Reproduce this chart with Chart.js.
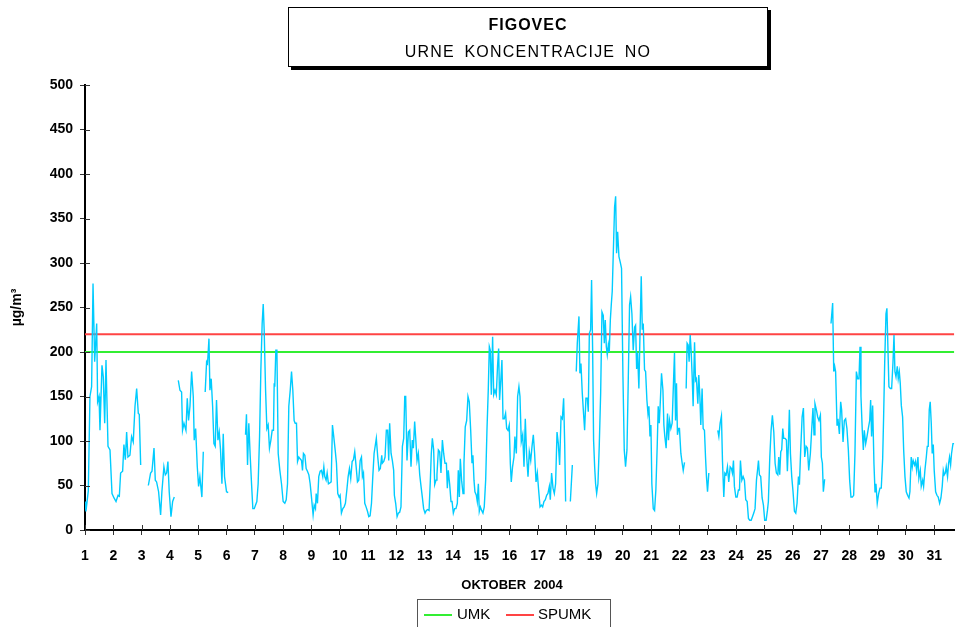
<!DOCTYPE html>
<html>
<head>
<meta charset="utf-8">
<script src="https://cdn.jsdelivr.net/npm/chart.js@4"></script>
<style>
  body { margin: 0; background: #fff; font-family: 'Liberation Sans', Arial, sans-serif; }
  #wrap { position: relative; width: 955px; height: 627px; overflow: hidden; }
  #titleBox { position: absolute; left: 288px; top: 7px; width: 478px; height: 58px; border: 1px solid #000;
    box-shadow: 3px 3px 0 #000; background: #fff; text-align: center; }
  #titleBox .t1 { position: absolute; left: 0; right: 0; top: 8px; font-weight: bold; font-size: 16px; letter-spacing: 1px; }
  #titleBox .t2 { position: absolute; left: 0; right: 0; top: 35px; font-size: 16px; letter-spacing: 1.2px; word-spacing: 4px; }
  #xTitle { position: absolute; left: 412px; width: 200px; top: 577px; text-align: center; font-weight: bold; font-size: 13px; word-spacing: 4px; }
  #legend { position: absolute; left: 417px; top: 599px; width: 192px; height: 32px; border: 1px solid #555; background: #fff; }
  #legend .ln { position: absolute; top: 14px; width: 28px; height: 0; border-top: 2px solid; }
  #legend .lb { position: absolute; top: 5px; font-size: 15px; }
</style>
</head>
<body>
<div id="wrap">
  <canvas id="chart" width="955" height="627"></canvas>
  <div id="titleBox"><div class="t1">FIGOVEC</div><div class="t2">URNE KONCENTRACIJE NO</div></div>
  <div id="xTitle">OKTOBER 2004</div>
  <div id="legend">
    <div class="ln" style="left:6px;border-color:#33ee33"></div><div class="lb" style="left:39px">UMK</div>
    <div class="ln" style="left:88px;border-color:#ff4444"></div><div class="lb" style="left:120px">SPUMK</div>
  </div>
</div>
<script>
// hourly NO readings, [hour from 1 Oct 00:00, µg/m3]; null = missing hours
var noReadings = [
[0,32],[0.8,21],[2.8,44],[4.2,150],[5.6,161],[6.8,277],[8.2,189],[9.9,232],[10.7,144],[11.9,150],[12.7,112],[14.4,185],[15.5,172],[16.7,120],[17.8,191],[19.5,94],[21.2,90],[22.9,41],[24.6,36],[26.3,32],[28,39],[29.1,38],[30.2,64],[31.9,66],[33,96],[34.2,79],[35.3,110],[36.4,82],[38.1,84],[39.5,105],[40.9,99],[42.4,139],[43.8,159],[45.2,131],[46,130],[47.2,73],
[50,null],
[53.7,50],[55.6,64],[56.8,66],[58.5,92],[59.6,56],[60.7,54],[62.4,43],[64.1,17],[65.2,43],[66.9,71],[68.1,62],[69.2,64],[70.3,77],[71.4,43],[72.9,15],[74.3,32],[75.7,37],
[77,null],
[79.1,168],[80.5,157],[81.9,155],[82.7,112],[83.9,120],[85.6,112],[86.7,148],[87.8,123],[89,139],[90.4,178],[91.8,150],[92.6,101],[93.8,114],[95.2,71],[96.3,49],[97.4,60],[99.1,37],[100.3,88],
[101,null],
[101.9,155],[103.1,189],[103.9,187],[105.1,215],[105.9,157],[107,170],[108.2,139],[109.3,97],[110.4,94],[111.5,146],[112.7,101],[113.8,110],[114.9,90],[116.1,52],[117.2,108],[118.3,60],[120,43],[121.4,42],
[128,null],
[136.1,107],[136.9,130],[137.8,73],[138.9,120],[140.1,82],[141.2,52],[142.3,24],[143.5,24],[144.6,28],[145.7,32],[146.8,52],[148,105],[149.1,180],[150.2,232],[151.1,254],[151.9,225],[153.1,157],[154.2,114],[155.3,118],[156.4,92],[157.6,101],[158.7,112],[159.8,112],[160.4,165],[160.9,161],[161.8,202],[162.7,202],[163.8,86],[165.2,67],[166.6,52],[168,32],[169.4,30],[170.6,34],[171.7,52],[172.8,139],[174,157],[175.1,178],[176.2,157],[177.3,123],[178.2,120],[179.3,120],[180.2,77],[181.3,82],[182.4,80],[183.6,78],[184.4,67],[185.2,86],[186.4,84],[187.5,69],[188.6,66],[189.8,62],[190.9,52],[192,37],[193.4,17],[194.3,28],[195.4,24],[196,41],[197.1,30],[198.2,60],[199.4,66],[200.5,67],[201.6,60],[202.5,71],[203.3,60],[204.4,56],[205.3,64],[206.4,52],[207.6,53],[208.7,54],[209.8,118],[210.9,105],[212.1,90],[213.2,75],[214.3,41],[215.5,37],[216.3,39],[217.4,19],[218.6,24],[219.7,26],[220.8,30],[222,45],[223.1,60],[224.2,69],[225.3,58],[226.5,77],[227.6,79],[228.7,88],[229.9,71],[231,54],[232.1,56],[233.3,78],[234.4,82],[235.2,60],[236.1,64],[237.2,30],[238.3,26],[239.5,21],[240.6,15],[241.7,16],[242.9,30],[244,60],[245.1,86],
[247,103],[248.2,82],[249.3,67],[250.4,69],[251.6,84],[252.1,75],[253.3,77],[254.4,82],[255.5,112],[256.6,112],[257.5,78],[258.3,120],[259.5,86],[260.6,78],[261.7,67],[262.3,39],[263.4,30],[264.6,15],[265.7,19],[266.8,20],[267.9,26],[269.1,94],[270.2,103],[271.1,150],[271.9,150],[273,78],[274.2,110],[275.3,112],[276.4,71],[277.5,101],[278.4,92],[279.5,122],[280.4,103],[281.5,78],[282.6,86],[283.8,62],[284.9,49],[286,37],[287.1,24],[288.3,19],[289.4,22],[290.5,23],[291.7,22],[292.8,56],[293.6,86],[294.5,103],[295.6,90],[296.5,51],[297.6,56],[298.4,62],[299.6,90],[300.7,88],[301.8,64],[303,101],[304.1,86],[305.2,75],[306.4,75],[307.2,47],[308,67],[309.2,51],[310.3,32],[311.2,32],[312.3,19],[313.4,24],[314.5,24],[315.7,30],[316.5,67],[317.4,37],[318.2,80],[319.3,56],[320.5,41],[321.3,75],[322.4,116],[323.6,123],[324.7,150],[325.8,144],[327,112],[328.1,75],[328.9,84],[329.8,56],[330.6,43],[331.8,39],[332.6,32],[333.5,52],[334.3,21],[335.2,26],[336.3,22],[337.4,19],[338.5,26],[339.7,56],[340.8,112],[341.9,157],[342.8,206],[343.6,202],[344.5,152],[345.6,217],[346.5,152],[347.6,157],[348.7,152],[349.8,185],[350.7,204],[351.5,146],[352.7,172],[353.5,191],[354.4,125],[355.5,125],[356.6,131],[357.5,114],[358.6,112],[359.7,118],[360.6,75],[361.4,54],[362.5,71],[363.7,82],[364.5,105],[365.7,86],[366.8,150],[367.9,161],
[368.8,150],[369.9,99],[371.1,107],[372.2,71],[373.3,125],[374.5,82],[375.6,60],[376.7,88],[377.9,78],[379,94],[380.1,107],[381.2,86],[382.4,54],[383.5,64],[384.6,45],[385.8,26],[386.9,28],[388,26],[389.1,32],[390.3,34],[391.4,39],[392.5,41],[393.7,49],[394.5,34],[395.6,64],[396.8,47],[397.9,41],[399,52],[400.2,110],[401.3,97],[402.4,73],[403.6,127],[404.7,125],[405.8,148],[406.7,97],[407.5,32],
[409.5,null],
[411.5,32],[413.2,73],
[415,null],
[416.5,178],[417.4,210],[418.8,240],[419.6,176],[420.5,187],[421.6,154],[422.5,135],[423.6,112],[424.7,148],[425.9,148],[426.7,133],[427.6,221],[428.7,225],[429.5,281],[430.4,202],[431.2,101],[432.1,71],[432.9,52],[433.8,41],[434.9,52],[436,94],[437.2,154],[438.3,245],[439.4,241],[440.3,210],[441.1,236],[442,206],[442.8,197],[443.7,208],[444.5,200],[445.4,236],[446.2,253],[447,268],[447.9,311],[449,363],[449.9,375],[450.7,311],[451.6,335],[452.7,307],[453.8,301],[454.9,294],[456.1,172],[457.2,90],[458.3,71],[459.5,90],[460.6,168],[461.7,253],[462.6,262],[463.7,243],[464.8,202],[466,228],[466.8,230],[467.7,181],[468.5,199],[469.6,159],[470.5,217],[471.6,285],[472.5,225],[473.3,232],[474.4,180],[475.3,178],[476.4,146],[477.3,131],[478.1,139],[479,105],[479.8,118],[480.6,52],[481.8,24],[482.9,22],[484,45],[485.2,97],[486,139],[486.9,120],[487.7,142],[488.8,176],[490,157],[490.8,118],
[491.6,105],[492.7,92],[493.9,131],[494.7,101],[495.6,123],[496.7,114],[497.8,120],[499,168],[499.8,199],[500.7,123],[501.5,165],[502.3,107],[503.2,114],[504,114],[505.2,86],[506.3,75],[507.2,67],[508.3,76],
[509,null],
[509.7,159],[510.5,210],[511.4,208],[512.2,189],[513.1,219],[513.9,202],[514.8,172],[515.6,139],[516.8,211],[517.6,168],[518.4,170],[519.6,142],[520.4,174],[521.3,150],[522.1,118],[523.2,159],[524.1,114],[525.2,112],[526.1,82],[526.9,60],[527.8,43],[528.9,64],
[532,null],
[536.5,112],[537.4,105],[538.5,120],[539.6,128],[540.5,77],[541.6,37],[542.5,64],[543.6,62],[544.7,71],[545.8,54],[547,71],[548.1,69],[548.9,64],[549.8,78],[550.6,49],[551.8,37],[552.9,37],[554,45],[554.9,45],[555.7,78],[556.9,56],[558,60],[559.1,56],[560.2,34],[561.4,32],[562.5,13],[563.6,11],[564.8,11],[565.9,15],[567,19],[568.1,24],[569.3,56],[570.1,66],[571,78],[571.8,62],[572.9,60],[574.1,36],[575.2,28],[576.3,11],[577.5,11],[578.6,22],[579.4,32],[580.6,82],[581.7,112],[582.8,129],[584,110],[585.1,75],[586.2,64],[587.4,62],[588.2,82],[589,62],[589.9,88],[590.7,90],[591.6,114],[592.4,103],[593.6,103],[594.7,101],[595.5,66],[596.4,97],[597.2,135],[598.1,86],[599.2,60],[600.3,43],[601.5,21],[602.6,19],[603.7,30],[604.9,60],[605.7,51],[606.8,90],[608,127],[609.1,137],[610.2,82],[611.4,94],[612.5,92],[613.6,67],
[615,86],[616.1,112],[617.2,137],[618.1,107],[618.9,142],[620.1,135],[621.2,127],[622.3,123],[623.5,129],[624.3,82],[625.2,75],[626,43],[627.1,57],
[630,null],
[632.5,232],[633.9,255],[634.8,178],[635.6,184],[636.4,178],[637.6,118],[638.4,125],[639.6,108],[640.7,144],[641.5,135],[642.7,99],[643.8,123],[644.9,125],[646,114],[647.2,90],[648.3,56],[649.4,37],[650.6,37],[651.7,39],[652.8,86],[654,178],[655.1,170],[656.2,170],[657.1,206],[657.9,150],[659,112],[659.9,90],[660.7,112],[661.9,97],[663,105],[664.1,114],[665.3,123],[666.1,146],[666.9,105],[667.8,140],[668.9,75],[669.8,43],[670.6,52],[671.7,30],[672.9,41],[674,47],[675.1,47],[676.3,80],[677.1,127],[678,187],[679.1,243],[679.9,249],[680.8,202],[681.6,161],[682.8,159],[683.9,159],[685,187],[685.9,219],[686.7,178],[687.6,172],[688.7,184],[689.5,170],[690.4,178],[691.2,165],[692.1,140],[693.2,127],[694.1,90],[695.2,60],[696.3,43],[697.4,39],[698.6,36],[699.4,43],[700.5,82],[701.4,71],[702.2,78],[703.4,73],[704.2,77],[705.1,67],[706.2,82],[707,58],[708.2,67],[709,49],[710.2,56],[711,49],[712.1,67],[713.3,82],[714.1,94],[714.9,94],[715.8,135],[716.6,144],[717.5,120],[718.3,86],[719.2,96],[720,67],[721.2,43],[722.3,39],[723.4,37],[724.6,30],[725.7,36],[726.8,49],[727.7,67],[728.5,62],[729.4,64],[730.2,71],[731.3,60],[732.2,75],[733,82],[733.9,73],[734.7,86],[735.9,97],[737,97]
];

var dayTicks = [1,2,3,4,5,6,7,8,9,10,11,12,13,14,15,16,17,18,19,20,21,22,23,24,25,26,27,28,29,30,31];
var umk = 200;     // limit value
var spumk = 220;   // limit value + tolerance
var lastHour = 737;

var xMin = 1, xMax = 1 + lastHour / 24;

var ctx = document.getElementById('chart');

// tick marks that cross the axis line (inner half)
var innerTicks = {
  id: 'innerTicks',
  afterDraw: function(chart) {
    var c = chart.ctx, a = chart.chartArea;
    var xs = chart.scales.x, ys = chart.scales.y;
    c.save();
    c.strokeStyle = '#333';
    c.lineWidth = 1;
    c.beginPath();
    ys.ticks.forEach(function(t) {
      var y = Math.round(ys.getPixelForValue(t.value)) + 0.5;
      c.moveTo(a.left, y); c.lineTo(a.left + 5, y);
    });
    xs.ticks.forEach(function(t) {
      var x = Math.round(xs.getPixelForValue(t.value)) + 0.5;
      c.moveTo(x, a.bottom); c.lineTo(x, a.bottom - 5);
    });
    c.stroke();
    c.restore();
  }
};

var myChart = new Chart(ctx, {
  type: 'line',
  data: {
    datasets: [
      {
        label: 'NO',
        data: noReadings.map(function(d) { return { x: 1 + d[0] / 24, y: d[1] }; }),
        borderColor: '#00ccff',
        borderWidth: 1.4,
        pointRadius: 0,
        spanGaps: false,
        tension: 0
      },
      {
        label: 'UMK',
        data: [{ x: xMin, y: umk }, { x: xMax, y: umk }],
        borderColor: '#33ee33',
        borderWidth: 2,
        pointRadius: 0
      },
      {
        label: 'SPUMK',
        data: [{ x: xMin, y: spumk }, { x: xMax, y: spumk }],
        borderColor: '#ff4444',
        borderWidth: 2,
        pointRadius: 0
      }
    ]
  },
  options: {
    responsive: false,
    animation: false,
    devicePixelRatio: 1,
    layout: { padding: { top: 85, right: 0, left: 0, bottom: 0 } },
    plugins: {
      legend: { display: false },
      tooltip: { enabled: false }
    },
    scales: {
      x: {
        type: 'linear',
        min: xMin,
        max: xMax,
        afterBuildTicks: function(scale) {
          scale.ticks = dayTicks.map(function(v) { return { value: v }; });
        },
        afterFit: function(scale) { scale.height = 97; },
        grid: { display: true, drawOnChartArea: false, drawTicks: true, tickLength: 5, color: '#333' },
        border: { display: true, color: '#000', width: 2 },
        ticks: {
          color: '#000',
          padding: 13,
          maxRotation: 0,
          autoSkip: false,
          font: { family: "'Liberation Sans', Arial", size: 14, weight: 'bold' }
        }
      },
      y: {
        min: 0,
        max: 500,
        afterFit: function(scale) { scale.width = 85; },
        grid: { display: true, drawOnChartArea: false, drawTicks: true, tickLength: 5, color: '#333' },
        border: { display: true, color: '#000', width: 2 },
        ticks: {
          stepSize: 50,
          color: '#000',
          padding: 7,
          font: { family: "'Liberation Sans', Arial", size: 14, weight: 'bold' }
        },
        title: {
          display: true,
          text: 'µg/m³',
          color: '#000',
          padding: { top: 9, bottom: 0 },
          font: { family: "'Liberation Sans', Arial", size: 14, weight: 'bold' }
        }
      }
    }
  },
  plugins: [innerTicks]
});
</script>
</body>
</html>
